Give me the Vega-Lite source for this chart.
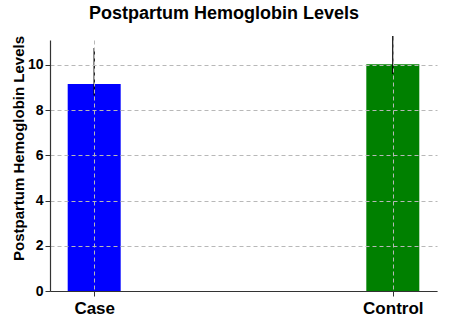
{
  "$schema": "https://vega.github.io/schema/vega-lite/v6.json",
  "width": 387,
  "height": 251,
  "autosize": "none",
  "padding": {"left": 50, "top": 40, "right": 19, "bottom": 32},
  "background": "white",
  "config": {
    "view": {"stroke": null},
    "font": "Liberation Sans"
  },
  "title": {
    "text": "Postpartum Hemoglobin Levels",
    "font": "Liberation Sans",
    "fontSize": 18,
    "fontWeight": "bold",
    "color": "black",
    "anchor": "middle",
    "frame": "bounds",
    "offset": 12
  },
  "data": {
    "values": [
      {"group": "Case", "mean": 9.15, "lo": 8.65, "hi": 10.75},
      {"group": "Control", "mean": 10.03, "lo": 9.6, "hi": 11.28}
    ]
  },
  "encoding": {
    "x": {
      "field": "group",
      "type": "nominal",
      "scale": {"type": "point", "padding": 0.148},
      "axis": {
        "title": null,
        "labelAngle": 0,
        "labelFont": "Liberation Sans",
        "labelFontSize": 17,
        "labelFontWeight": "bold",
        "labelColor": "black",
        "labelPadding": 4,
        "domainColor": "#333333",
        "domainWidth": 1.2,
        "tickColor": "#333333",
        "tickSize": 5,
        "grid": true,
        "gridColor": "#b8b8b8",
        "gridDash": [4, 3],
        "gridWidth": 1,
        "zindex": 1
      }
    }
  },
  "layer": [
    {
      "mark": {"type": "bar", "width": 53},
      "encoding": {
        "y": {
          "field": "mean",
          "type": "quantitative",
          "scale": {"domain": [0, 11.1], "nice": false, "zero": true},
          "axis": {
            "title": "Postpartum Hemoglobin Levels",
            "titleFont": "Liberation Sans",
            "titleFontSize": 15,
            "titleFontWeight": "bold",
            "titleColor": "black",
            "titleAngle": -90,
            "titleBaseline": "middle",
            "titleAlign": "center",
            "titleX": -32,
            "titleY": 108,
            "values": [0, 2, 4, 6, 8, 10],
            "labelFont": "Liberation Sans",
            "labelFontSize": 14,
            "labelFontWeight": "bold",
            "labelColor": "black",
            "labelPadding": 2,
            "domainColor": "#333333",
            "domainWidth": 1.2,
            "tickColor": "#333333",
            "tickSize": 5,
            "grid": true,
            "gridColor": "#b8b8b8",
            "gridDash": [4, 3],
            "gridWidth": 1,
            "zindex": 1
          }
        },
        "color": {
          "field": "group",
          "type": "nominal",
          "scale": {"domain": ["Case", "Control"], "range": ["#0000ff", "#008000"]},
          "legend": null
        }
      }
    },
    {
      "mark": {"type": "rule", "color": "black", "strokeWidth": 1.3},
      "encoding": {
        "y": {"field": "lo", "type": "quantitative"},
        "y2": {"field": "hi"}
      }
    }
  ]
}
